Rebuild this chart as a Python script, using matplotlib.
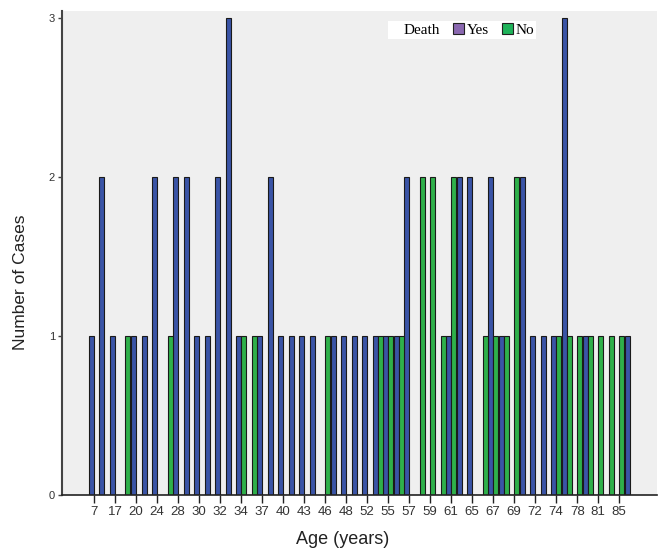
import numpy as np
import matplotlib.pyplot as plt
from matplotlib.patches import Patch

# age categories (every other one is labelled on the axis)
ages = [7, 15, 17, 19, 20, 22, 24, 26, 28, 29, 30, 31, 32, 33, 34, 35, 37, 38,
        40, 42, 43, 45, 46, 47, 48, 50, 52, 54, 55, 56, 57, 58, 59, 60, 61, 62,
        65, 66, 67, 68, 69, 70, 72, 73, 74, 75, 78, 80, 81, 83, 85, 86]
death_yes = [1, 2, 1, 0, 1, 1, 2, 0, 2, 2, 1, 1, 2, 3, 1, 0, 1, 2,
             1, 1, 1, 1, 0, 1, 1, 1, 1, 1, 1, 1, 2, 0, 0, 0, 1, 2,
             2, 0, 2, 1, 0, 2, 1, 1, 1, 3, 0, 1, 0, 0, 0, 1]
death_no = [0, 0, 0, 1, 0, 0, 0, 1, 0, 0, 0, 0, 0, 0, 1, 1, 0, 0,
            0, 0, 0, 0, 1, 0, 0, 0, 0, 1, 1, 1, 0, 2, 2, 1, 2, 0,
            0, 1, 1, 1, 2, 0, 0, 0, 1, 1, 1, 1, 1, 1, 1, 0]

col_yes = '#3a54a6'
col_no = '#2fb04a'
leg_yes = '#8a68b0'
leg_no = '#1fb35a'


def main():
    fig = plt.figure(figsize=(6.59, 5.48), dpi=100)
    ax = fig.add_axes([0.094, 0.097, 0.903, 0.883])
    ax.set_facecolor('#efefef')

    x = np.arange(len(ages))
    w = 0.476
    ax.bar(x, death_yes, width=-w, align='edge', color=col_yes,
           edgecolor='#1a1a1a', linewidth=0.8)
    ax.bar(x, death_no, width=w, align='edge', color=col_no,
           edgecolor='#1a1a1a', linewidth=0.8)

    ax.set_xlim(-3.05, 53.6)
    ax.set_ylim(0, 3.044)
    ax.set_xticks(x[::2])
    ax.set_xticklabels([str(a) for a in ages[::2]], fontsize=9.5,
                       family='Liberation Sans', color='#333333')
    ax.set_yticks([0, 1, 2, 3])
    ax.set_yticklabels(['0', '1', '2', '3'], fontsize=8,
                       family='Liberation Sans', color='#333333')
    ax.tick_params(axis='x', direction='out', length=6, width=1, color='#222222', pad=2)
    ax.tick_params(axis='y', direction='out', length=3, width=1, color='#444444', pad=2)

    for s in ['top', 'right']:
        ax.spines[s].set_visible(False)
    ax.spines['left'].set_color('#444444')
    ax.spines['left'].set_linewidth(1.5)
    ax.spines['bottom'].set_color('#222222')
    ax.spines['bottom'].set_linewidth(1.2)

    ax.set_ylabel('Number of Cases', fontsize=12.5, family='Liberation Sans', color='#222222')
    ax.yaxis.set_label_coords(-0.057, 0.44)
    ax.set_xlabel('Age (years)', fontsize=13, family='Liberation Sans', color='#222222')
    ax.xaxis.set_label_coords(0.472, -0.075)

    handles = [Patch(facecolor='none', edgecolor='none'),
               Patch(facecolor=leg_yes, edgecolor='#222222', linewidth=0.8),
               Patch(facecolor=leg_no, edgecolor='#222222', linewidth=0.8)]
    leg = ax.legend(handles, ['Death', 'Yes', 'No'], ncol=3, loc='upper left',
                    bbox_to_anchor=(0.548, 0.98), frameon=True, fancybox=False,
                    prop={'family': 'Liberation Serif', 'size': 11},
                    handlelength=0.7, handleheight=0.7, handletextpad=0.15,
                    columnspacing=0.9, borderpad=0.15, borderaxespad=0)
    leg.get_frame().set_facecolor('white')
    leg.get_frame().set_edgecolor('none')
    leg.get_frame().set_alpha(1)

    fig.savefig('out.png', dpi=100)


if __name__ == '__main__':
    main()
